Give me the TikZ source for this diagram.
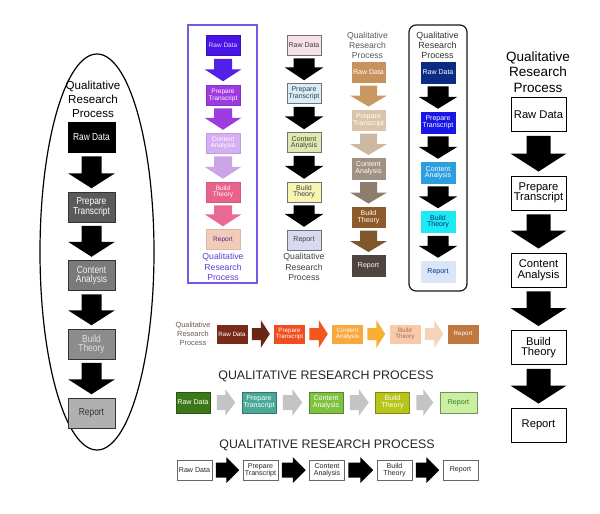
\documentclass[tikz,border=0pt]{standalone}
\usepackage{fontspec}
\setmainfont{Liberation Sans}
\newfontfamily\narrowfont[FakeStretch=0.82]{Liberation Sans}
\usetikzlibrary{calc,shapes.geometric}

% vertical block arrow between two named nodes
\newcommand\varr[7]{%
  \fill[#1] let \p1=($(#2.south)+(0,#4)$), \p2=($(#3.north)-(0,#4)$) in
    (\x1-#5pt,\y1) -- (\x1+#5pt,\y1) -- (\x1+#5pt,\y2+#7pt) -- (\x1+#6pt,\y2+#7pt)
    -- (\x1,\y2) -- (\x1-#6pt,\y2+#7pt) -- (\x1-#5pt,\y2+#7pt) -- cycle;}
% horizontal block arrow between two named nodes
\newcommand\harr[7]{%
  \fill[#1] let \p1=($(#2.east)+(#4,0)$), \p2=($(#3.west)-(#4,0)$) in
    (\x1,\y1+#5pt) -- (\x2-#7pt,\y1+#5pt) -- (\x2-#7pt,\y1+#6pt) -- (\x2,\y1)
    -- (\x2-#7pt,\y1-#6pt) -- (\x2-#7pt,\y1-#5pt) -- (\x1,\y1-#5pt) -- cycle;}

% colours
\definecolor{lgA}{HTML}{5A5A5A}
\definecolor{lgB}{HTML}{7A7A7A}
\definecolor{lgC}{HTML}{8C8C8C}
\definecolor{lgD}{HTML}{B0B0B0}
\definecolor{puF}{HTML}{7A55E8}
\definecolor{puT}{HTML}{5A3FD0}
\definecolor{puA}{HTML}{4A14E6}
\definecolor{puB}{HTML}{9D3AE0}
\definecolor{puC}{HTML}{D6AEF4}
\definecolor{puD}{HTML}{E8628C}
\definecolor{puE}{HTML}{F2CCB8}
\definecolor{puX}{HTML}{4A2A8A}
\definecolor{ciA}{HTML}{F6E0EA}
\definecolor{ciB}{HTML}{D6EEF8}
\definecolor{ciC}{HTML}{E0E8B0}
\definecolor{ciD}{HTML}{F8F4B4}
\definecolor{ciE}{HTML}{D8D8F0}
\definecolor{brA}{HTML}{C8925C}
\definecolor{brAa}{HTML}{C99862}
\definecolor{brB}{HTML}{DCC4AA}
\definecolor{brBa}{HTML}{CDB9A0}
\definecolor{brC}{HTML}{A09282}
\definecolor{brCa}{HTML}{8E7D6C}
\definecolor{brD}{HTML}{8E5A2A}
\definecolor{brDa}{HTML}{80562C}
\definecolor{brE}{HTML}{4E4440}
\definecolor{blA}{HTML}{0B2B84}
\definecolor{blB}{HTML}{1717E6}
\definecolor{blC}{HTML}{2B9FE0}
\definecolor{blD}{HTML}{1EE8F0}
\definecolor{blE}{HTML}{D8E6F8}
\definecolor{orA}{HTML}{7A2A18}
\definecolor{orAa}{HTML}{6A2814}
\definecolor{orB}{HTML}{F04E1E}
\definecolor{orBa}{HTML}{F4561E}
\definecolor{orC}{HTML}{F8A83C}
\definecolor{orCa}{HTML}{F8B032}
\definecolor{orD}{HTML}{F8CAA8}
\definecolor{orDa}{HTML}{F8D2B4}
\definecolor{orE}{HTML}{C0783E}
\definecolor{orT}{HTML}{6B5B55}
\definecolor{grA}{HTML}{3A7818}
\definecolor{grB}{HTML}{4AA898}
\definecolor{grC}{HTML}{7EC23E}
\definecolor{grD}{HTML}{B8C418}
\definecolor{grE}{HTML}{C8F0A0}
\definecolor{grX}{HTML}{3A7A28}
\definecolor{grArr}{HTML}{C4C4C4}

\begin{document}
\begin{tikzpicture}[x=1pt,y=-1pt,
  base/.style={draw, line width=0.5pt, inner sep=0pt, align=center},
  lcol/.style={base, minimum width=47, minimum height=30, font=\narrowfont\fontsize{10.2}{9.2}\selectfont},
  pcol/.style={base, minimum width=34, minimum height=20, font=\fontsize{6.5}{6}\selectfont},
  ccol/.style={base, minimum width=34, minimum height=20, font=\fontsize{7}{6.3}\selectfont},
  bcol/.style={base, minimum width=33, minimum height=20.5, font=\fontsize{7}{7}\selectfont},
  kcol/.style={base, minimum width=34, minimum height=21, font=\fontsize{7}{6}\selectfont},
  rcol/.style={base, minimum width=55, minimum height=34, font=\fontsize{11.2}{10.5}\selectfont},
  rowa/.style={base, minimum width=30, minimum height=18, font=\fontsize{6.2}{6}\selectfont},
  rowb/.style={base, minimum width=34, minimum height=21, font=\fontsize{7.1}{7.2}\selectfont},
  rowc/.style={base, minimum width=35, minimum height=20, font=\fontsize{7.1}{7}\selectfont},
  ttl/.style={align=center, inner sep=0pt},
  frame/.style={line width=1.2pt}]
\useasboundingbox (0,0) rectangle (600,514);
\fill[white] (0,0) rectangle (600,514);

% ===== Left column (ellipse) =====
\node[frame, draw, ellipse, minimum width=114, minimum height=396, inner sep=0pt] (Lell) at (97,252) {};
\node[ttl, font=\fontsize{11.6}{14}\selectfont] (Lt) at (93,99.5) {Qualitative\\Research\\Process};
\node[lcol, fill=black, draw=black, text=white] (L1) at (91.5,137.5) {Raw Data};
\node[lcol, fill=lgA, draw=black!80, text=white] (L2) at (91.5,207) {Prepare\\Transcript};
\node[lcol, fill=lgB, draw=black!80, text=white!95!black] (L3) at (91.5,275.5) {Content\\Analysis};
\node[lcol, fill=lgC, draw=black!80, text=white!88!black] (L4) at (91.5,344) {Build\\Theory};
\node[lcol, fill=lgD, draw=black!80, text=black!80] (L5) at (91.5,413) {Report};
\varr{black}{L1}{L2}{3.5}{10}{23.5}{15}
\varr{black}{L2}{L3}{3.5}{10}{23.5}{15}
\varr{black}{L3}{L4}{3.5}{10}{23.5}{15}
\varr{black}{L4}{L5}{3.5}{10}{23.5}{15}

% ===== Purple column =====
\draw[frame, draw=puF] (188,25) rectangle (257,283);
\node[pcol, fill=puA, draw=puA!80!black, text=white!85!puA] (P1) at (223,45) {Raw Data};
\node[pcol, fill=puB, draw=puB!85!black, text=white] (P2) at (223,95) {Prepare\\Transcript};
\node[pcol, fill=puC, draw=puC!90!black, text=white] (P3) at (223,143) {Content\\Analysis};
\node[pcol, fill=puD, draw=puD!90!black, text=white] (P4) at (223,192) {Build\\Theory};
\node[pcol, fill=puE, draw=puE!90!black, text=puX] (P5) at (223,239.5) {Report};
\node[ttl, text=puT, font=\fontsize{8.7}{10.5}\selectfont] (Pt) at (223,267) {Qualitative\\Research\\Process};
\varr{puA!95!white}{P1}{P2}{3.5}{9}{18.5}{12}
\varr{puB}{P2}{P3}{3}{9}{18.5}{12}
\varr{puC!95!black}{P3}{P4}{3}{9}{18.5}{12}
\varr{puD!95!white}{P4}{P5}{3}{9}{18.5}{12}

% ===== Column 2 (pastel) =====
\node[ccol, fill=ciA, draw=black!55, text=black!75] (C1) at (304,45) {Raw Data};
\node[ccol, fill=ciB, draw=black!55, text=black!75] (C2) at (304,93.5) {Prepare\\Transcript};
\node[ccol, fill=ciC, draw=black!55, text=black!75] (C3) at (304,142.5) {Content\\Analysis};
\node[ccol, fill=ciD, draw=black!55, text=black!75] (C4) at (304,192) {Build\\Theory};
\node[ccol, fill=ciE, draw=black!55, text=black!75] (C5) at (304,240) {Report};
\node[ttl, text=black!75, font=\fontsize{8.7}{10.8}\selectfont] (Ct) at (304,267) {Qualitative\\Research\\Process};
\varr{black}{C1}{C2}{3}{10.5}{19.5}{13}
\varr{black}{C2}{C3}{3}{10.5}{19.5}{13}
\varr{black}{C3}{C4}{3}{10.5}{19.5}{13}
\varr{black}{C4}{C5}{3}{10.5}{19.5}{13}

% ===== Brown column =====
\node[ttl, text=black!65, font=\fontsize{8.6}{10}\selectfont] (Bt) at (367.5,45) {Qualitative\\Research\\Process};
\node[bcol, fill=brA, draw=brA, text=white] (B1) at (368.5,72) {Raw Data};
\node[bcol, fill=brB, draw=brB, text=white] (B2) at (368.5,120) {Prepare\\Transcript};
\node[bcol, fill=brC, draw=brC, text=white] (B3) at (368.5,168.5) {Content\\Analysis};
\node[bcol, fill=brD, draw=brD, text=white] (B4) at (368.5,217) {Build\\Theory};
\node[bcol, fill=brE, draw=brE, text=white] (B5) at (368.5,265.5) {Report};
\varr{brAa}{B1}{B2}{3}{8.5}{18.5}{11}
\varr{brBa}{B2}{B3}{3}{8.5}{18.5}{11}
\varr{brCa}{B3}{B4}{3}{8.5}{18.5}{11}
\varr{brDa}{B4}{B5}{3}{8.5}{18.5}{11}

% ===== Blue column (rounded frame) =====
\draw[frame, draw=black!90, rounded corners=7] (409,25) rectangle (467,291);
\node[ttl, text=black!80, font=\fontsize{8.9}{10}\selectfont] (Kt) at (437.5,45) {Qualitative\\Research\\Process};
\node[kcol, fill=blA, draw=blA, text=white] (K1) at (438,72.5) {Raw Data};
\node[kcol, fill=blB, draw=blB, text=white] (K2) at (438,122.5) {Prepare\\Transcript};
\node[kcol, fill=blC, draw=blC, text=white] (K3) at (438,172.5) {Content\\Analysis};
\node[kcol, fill=blD, draw=blD, text=blA] (K4) at (438,222) {Build\\Theory};
\node[kcol, fill=blE, draw=blE, text=blA] (K5) at (438,271.5) {Report};
\varr{black}{K1}{K2}{3}{10.5}{19.5}{12}
\varr{black}{K2}{K3}{3}{10.5}{19.5}{12}
\varr{black}{K3}{K4}{3}{10.5}{19.5}{12}
\varr{black}{K4}{K5}{3}{10.5}{19.5}{12}

% ===== Right column =====
\node[ttl, font=\fontsize{13.5}{15.5}\selectfont] (Rt) at (538,72) {Qualitative\\Research\\Process};
\node[rcol, fill=white, draw=black, line width=0.9pt] (R1) at (538.5,114.5) {Raw Data};
\node[rcol, fill=white, draw=black, line width=0.9pt] (R2) at (538.5,193) {Prepare\\Transcript};
\node[rcol, fill=white, draw=black, line width=0.9pt] (R3) at (538.5,270) {Content\\Analysis};
\node[rcol, fill=white, draw=black, line width=0.9pt] (R4) at (538.5,347.5) {Build\\Theory};
\node[rcol, fill=white, draw=black, line width=0.9pt] (R5) at (538.5,425) {Report};
\varr{black}{R1}{R2}{4}{12}{28}{18}
\varr{black}{R2}{R3}{4}{12}{28}{18}
\varr{black}{R3}{R4}{4}{12}{28}{18}
\varr{black}{R4}{R5}{4}{12}{28}{18}

% ===== Row 1 (orange) =====
\node[ttl, text=orT, font=\fontsize{7.4}{9}\selectfont] (At) at (193,334) {Qualitative\\Research\\Process};
\node[rowa, fill=orA, draw=orA, text=white] (A1) at (232,334) {Raw Data};
\node[rowa, fill=orB, draw=orB, text=white] (A2) at (289.5,334) {Prepare\\Transcript};
\node[rowa, fill=orC, draw=orC, text=white] (A3) at (347.5,334) {Content\\Analysis};
\node[rowa, fill=orD, draw=orD, text=orA!70] (A4) at (405,334) {Build\\Theory};
\node[rowa, fill=orE, draw=orE, text=white] (A5) at (463,334) {Report};
\harr{orAa}{A1}{A2}{4.5}{6}{14}{9}
\harr{orBa}{A2}{A3}{4.5}{6}{14}{9}
\harr{orCa}{A3}{A4}{4.5}{6}{14}{9}
\harr{orDa}{A4}{A5}{4.5}{6}{14}{9}

% ===== Row 2 (green) =====
\node[ttl, text=black!85, font=\fontsize{12.4}{14}\selectfont] (Gt) at (326,376) {QUALITATIVE RESEARCH PROCESS};
\node[rowb, fill=grA, draw=grA!70!black, text=white] (G1) at (193,402.5) {Raw Data};
\node[rowb, fill=grB, draw=grB!70!black, text=white] (G2) at (259,402.5) {Prepare\\Transcript};
\node[rowb, fill=grC, draw=grC!70!black, text=white] (G3) at (326,402.5) {Content\\Analysis};
\node[rowb, fill=grD, draw=grD!70!black, text=white] (G4) at (392.5,402.5) {Build\\Theory};
\node[rowb, fill=grE, draw=grE!60!black, text=grX, minimum width=37] (G5) at (458.5,402.5) {Report};
\harr{grArr}{G1}{G2}{6.5}{7.5}{13.5}{10}
\harr{grArr}{G2}{G3}{6.5}{7.5}{13.5}{10}
\harr{grArr}{G3}{G4}{6.5}{7.5}{13.5}{10}
\harr{grArr}{G4}{G5}{6.5}{7.5}{13.5}{10}

% ===== Row 3 (black & white) =====
\node[ttl, text=black!85, font=\fontsize{12.4}{14}\selectfont] (Wt) at (327,445) {QUALITATIVE RESEARCH PROCESS};
\node[rowc, fill=white, draw=black!60, text=black!85] (W1) at (194.5,470) {Raw Data};
\node[rowc, fill=white, draw=black!60, text=black!85] (W2) at (260.5,470) {Prepare\\Transcript};
\node[rowc, fill=white, draw=black!60, text=black!85] (W3) at (327,470) {Content\\Analysis};
\node[rowc, fill=white, draw=black!60, text=black!85] (W4) at (394.5,470) {Build\\Theory};
\node[rowc, fill=white, draw=black!60, text=black!85] (W5) at (460.5,470) {Report};
\harr{black}{W1}{W2}{3.5}{7.5}{13}{13}
\harr{black}{W2}{W3}{3.5}{7.5}{13}{13}
\harr{black}{W3}{W4}{3.5}{7.5}{13}{13}
\harr{black}{W4}{W5}{3.5}{7.5}{13}{13}
\end{tikzpicture}
\end{document}
